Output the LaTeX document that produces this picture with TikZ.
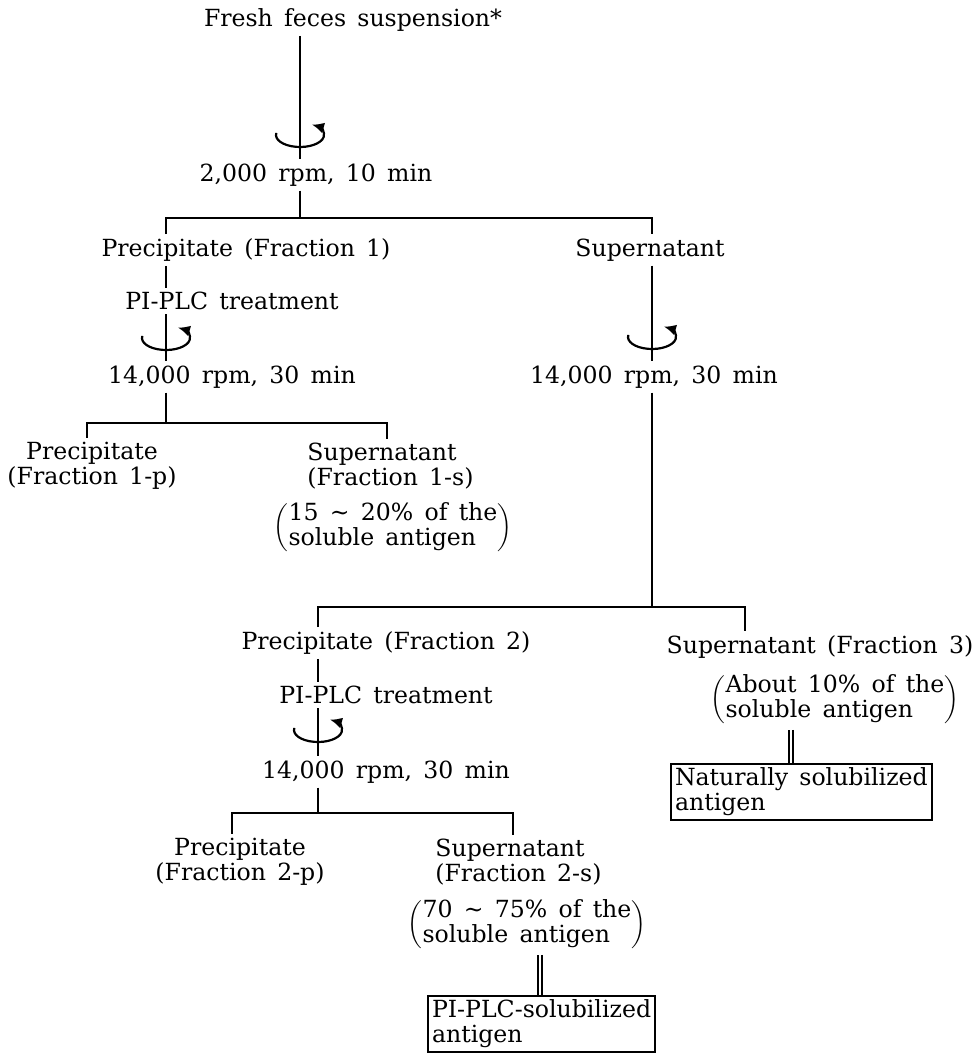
\documentclass[tikz,border=0pt]{standalone}
\usepackage{fontspec}
\setmainfont{DejaVu Serif}[WordSpace=1.5]
\usetikzlibrary{arrows.meta,positioning,calc}
\tikzset{txt/.style={inner sep=2pt,align=center},lft/.style={inner sep=2pt,align=left,anchor=west},
 wire/.style={line width=1pt},spin/.style={line width=1.1pt,-{Latex[length=6pt,width=5.5pt]}},
 res/.style={draw,line width=1pt,inner sep=2pt,align=left,anchor=north west},
 dbl/.style={line width=1pt,double,double distance=1.3pt}}

\begin{document}
\begin{tikzpicture}[x=.5pt,y=-.5pt,font=\fontsize{11.8}{12.5}\selectfont]
\useasboundingbox (0,0) rectangle (978,1054);
% first spin
\node[txt] (top) at (353,20){Fresh feces suspension*};
\node[txt] (c1) at (316,175){2,000 rpm, 10 min};
\node[txt] (prec1) at (246,250){Precipitate (Fraction 1)};\node[txt] (sup1) at (650,250){Supernatant};
% left arm
\node[txt] (pi1) at (232,301){PI-PLC treatment};\node[txt] (c2) at (232,377){14,000 rpm, 30 min};
\node[txt] (f1p) at (92,466){Precipitate\\(Fraction 1-p)};
\node[lft] (f1s) at (303,466){Supernatant\\(Fraction 1-s)};
\node[txt] (ab1) at (393,528){$\left(\begin{tabular}{@{}l@{}}15 \textasciitilde{} 20\% of the\\soluble antigen\end{tabular}\right)$};
% right arm
\node[txt] (c3) at (654,377){14,000 rpm, 30 min};
\node[txt] (prec2) at (386,643){Precipitate (Fraction 2)};\node[txt] (f3) at (820,647){Supernatant (Fraction 3)};
\node[txt] (pi2) at (386,695){PI-PLC treatment};\node[txt] (c4) at (386,772){14,000 rpm, 30 min};
\node[txt] (f2p) at (240,862){Precipitate\\(Fraction 2-p)};
\node[lft] (f2s) at (431,862){Supernatant\\(Fraction 2-s)};
\node[txt] (ab2) at (527,925){$\left(\begin{tabular}{@{}l@{}}70 \textasciitilde{} 75\% of the\\soluble antigen\end{tabular}\right)$};
\node[txt] (ab3) at (835,700){$\left(\begin{tabular}{@{}l@{}}About 10\% of the\\soluble antigen\end{tabular}\right)$};
\node[res] (box2) at (427,995){PI-PLC-solubilized\\antigen};
\node[res] (box3) at (670,763){Naturally solubilized\\antigen};
% branch points
\coordinate (j1) at (300,218);\coordinate (l1) at (166,218);\coordinate (r1) at (652,218);
\coordinate (j2) at (166,423);\coordinate (l2) at (87,423);\coordinate (r2) at (387,423);
\coordinate (j3) at (652,607);\coordinate (l3) at (318,607);\coordinate (r3) at (745,607);
\coordinate (j4) at (318,813);\coordinate (l4) at (232,813);\coordinate (r4) at (513,813);
\coordinate (d2) at (540,0);\coordinate (d3) at (791,0);
\draw[wire](top.south-|j1)--(c1.north-|j1);\draw[wire](c1.south-|j1)--(j1);
\draw[wire](prec1.north-|l1)--(l1)--(r1)--(sup1.north-|r1);
\draw[wire](prec1.south-|l1)--(pi1.north-|l1);\draw[wire](pi1.south-|l1)--(c2.north-|l1);\draw[wire](c2.south-|l1)--(j2);
\draw[wire](f1p.north-|l2)--(l2)--(r2)--(f1s.north-|r2);
\draw[wire](sup1.south-|r1)--(c3.north-|r1);\draw[wire](c3.south-|r1)--(j3);
\draw[wire](prec2.north-|l3)--(l3)--(r3)--(f3.north-|r3);
\draw[wire](prec2.south-|l3)--(pi2.north-|l3);\draw[wire](pi2.south-|l3)--(c4.north-|l3);\draw[wire](c4.south-|l3)--(j4);
\draw[wire](f2p.north-|l4)--(l4)--(r4)--(f2s.north-|r4);
\draw[dbl](ab2.south-|d2)--(box2.north-|d2);\draw[dbl](ab3.south-|d3)--(box3.north-|d3);
\foreach \x/\y in {300/135,166/338,652/337,318/730}{
 \draw[spin] (\x,\y) ++(190:24 and 12) arc[start angle=190,end angle=-60,x radius=24,y radius=12];}
\end{tikzpicture}
\end{document}
